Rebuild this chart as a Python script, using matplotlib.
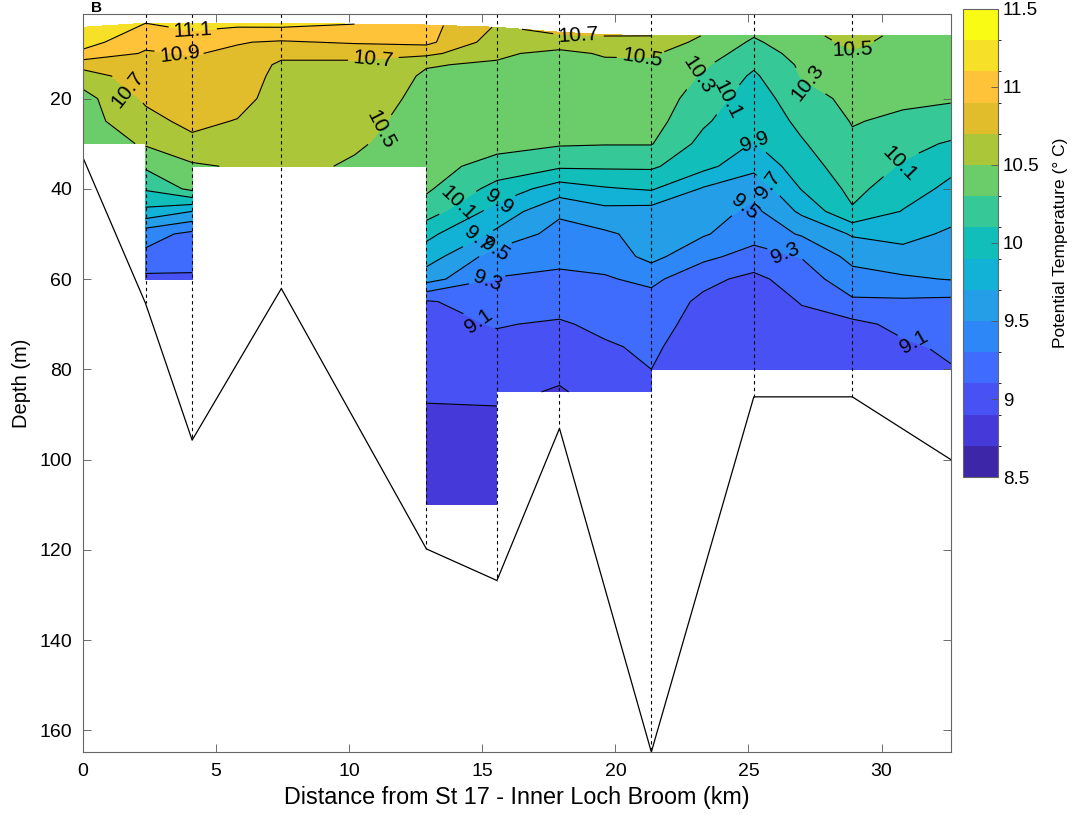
import numpy as np
import matplotlib.pyplot as plt
from matplotlib.colors import ListedColormap, BoundaryNorm

plt.rcParams['font.family'] = ['Liberation Sans', 'DejaVu Sans']

n = np.nan

# CTD columns along the section (km from St 17)
dist_km = [0, 2.35, 4.1, 5.8, 7.45, 10.2, 12.9, 15.55, 17.9, 19.6,
           21.35, 23.3, 25.2, 27.0, 28.9, 30.8, 32.6]
# depth of the first good bin at each column (m)
surface_m = [4.2, 3.3, 3.4, 3.3, 3.3, 3.5, 3.7, 4.2, 5.3, 5.8,
             6.1, 6.1, 6.1, 6.1, 6.1, 6.1, 6.1]
# depth bins below the surface bin (m)
depth_m = [7.5, 10, 12.5, 15, 20, 25, 30, 35, 40, 45, 50, 55, 60,
           65, 70, 75, 80, 85, 90, 95, 100, 105, 110]

# potential temperature (deg C), one profile per column: surface bin then depth_m
temp_profiles = [
    [11.25, 11.18, 11.05, 10.78, 10.60, 10.43, 10.42, 10.40] + [n] * 16,
    [11.10, 10.95, 10.88, 10.85, 10.82, 10.73, 10.64, 10.52, 10.33, 10.12,
     9.85, 9.38, 9.25, 9.05] + [n] * 10,
    [11.15, 11.02, 10.91, 10.87, 10.85, 10.80, 10.75, 10.65, 10.47, 10.35,
     9.70, 9.25, 9.15, 9.08] + [n] * 10,
    [11.15, 10.91, 10.87, 10.85, 10.83, 10.78, 10.69, 10.60, 10.52] + [n] * 15,
    [11.16, 10.88, 10.76, 10.66, 10.63, 10.60, 10.58, 10.56, 10.55] + [n] * 15,
    [11.10, 10.92, 10.76, 10.66, 10.62, 10.58, 10.55, 10.52, 10.48] + [n] * 15,
    [10.97, 10.95, 10.75, 10.51, 10.48, 10.46, 10.44, 10.42, 10.38, 10.33,
     10.20, 9.95, 9.80, 9.58, 9.08, 9.05, 9.00, 8.96, 8.92, 8.88,
     8.85, 8.82, 8.80, 8.78],
    [10.68, 10.60, 10.53, 10.48, 10.46, 10.43, 10.40, 10.37, 10.22, 10.03,
     9.82, 9.66, 9.40, 9.29, 9.20, 9.11, 9.06, 9.02, 8.95, 8.87,
     8.84, 8.82, 8.80, 8.78],
    [10.73, 10.60, 10.45, 10.42, 10.41, 10.40, 10.37, 10.32, 10.13, 9.80,
     9.54, 9.42, 9.35, 9.26, 9.17, 9.08, 9.02, 8.95, 8.88] + [n] * 5,
    [10.72, 10.62, 10.52, 10.46, 10.43, 10.41, 10.38, 10.31, 10.13, 9.88,
     9.64, 9.47, 9.38, 9.28, 9.20, 9.14, 9.08, 9.03, 8.98] + [n] * 5,
    [10.70, 10.60, 10.52, 10.47, 10.45, 10.42, 10.38, 10.31, 10.13, 9.92,
     9.62, 9.57, 9.56, 9.35, 9.22, 9.17, 9.13, 9.10, 9.05] + [n] * 5,
    [10.49, 10.46, 10.40, 10.33, 10.28, 10.20, 10.13, 10.04, 9.96, 9.68,
     9.60, 9.52, 9.35, 9.15, 9.06, 9.03, 9.00, 8.98] + [n] * 6,
    [10.31, 10.27, 10.20, 10.13, 10.07, 10.00, 9.95, 9.89, 9.76, 9.56,
     9.45, 9.38, 9.22, 9.05, 9.00, 8.97, 8.95, 8.94] + [n] * 6,
    [10.45, 10.42, 10.37, 10.33, 10.31, 10.22, 10.15, 10.08, 10.00, 9.91,
     9.74, 9.52, 9.31, 9.20, 9.11, 9.05, 9.00, 8.98] + [n] * 6,
    [10.56, 10.54, 10.48, 10.44, 10.40, 10.35, 10.31, 10.27, 10.22, 10.15,
     10.08, 9.72, 9.56, 9.42, 9.27, 9.05, 8.98, 8.95] + [n] * 6,
    [10.46, 10.44, 10.42, 10.40, 10.37, 10.33, 10.27, 10.16, 10.08, 10.00,
     9.89, 9.76, 9.63, 9.47, 9.27, 9.15, 9.07, 9.03] + [n] * 6,
    [10.47, 10.45, 10.43, 10.40, 10.37, 10.32, 10.22, 10.08, 9.95, 9.85,
     9.77, 9.67, 9.58, 9.51, 9.25, 9.18, 9.13, 9.09] + [n] * 6,
]

# station positions and sea-bed depth (dashed casts)
station_km = [2.35, 4.1, 7.45, 12.9, 15.55, 17.9, 21.35, 25.2, 28.9]
station_bottom_m = [65.4, 95.7, 62.1, 119.8, 126.8, 93.1, 164.8, 86.1, 86.1]

# bathymetry along the section
bathy_km = [0, 2.35, 4.1, 7.45, 12.9, 15.55, 17.9, 21.35, 25.2, 28.9, 32.6]
bathy_m = [33.1, 65.4, 95.7, 62.1, 119.8, 126.8, 93.1, 164.8, 86.1, 86.1, 100.0]

# contour label anchor points (km, m)
label_pos = [(4.15, 6.1), (3.6, 10.5), (1.95, 17.2), (10.9, 10.9), (11.1, 26.8),
             (18.6, 6.8), (21.0, 11.3), (23.2, 15.0), (24.2, 20.2), (27.2, 16.4),
             (29.0, 13.5), (25.6, 29.0), (25.7, 39.4), (24.6, 42.8), (26.4, 54.2),
             (30.6, 34.2), (31.6, 71.3), (14.0, 42.8), (15.4, 41.6), (14.9, 51.3),
             (15.5, 53.5), (15.2, 60.2), (15.0, 68.7)]

cbar_ticks = [8.5, 9, 9.5, 10, 10.5, 11, 11.5]
cbar_ticklabels = ['8.5', '9', '9.5', '10', '10.5', '11', '11.5']

# parula(15)
parula15 = ['#3e26a8', '#4539da', '#4852f4', '#406cfe', '#2d87f7', '#249ee6',
            '#12b1d6', '#12beb9', '#37c897', '#6acd69', '#abc739', '#e1bc2b',
            '#fec338', '#f6e028', '#f9fb14']

# ------------------------------------------------------------------
T = np.ma.masked_invalid(np.array(temp_profiles).T)
X = np.tile(np.array(dist_km), (len(depth_m) + 1, 1))
Y = np.vstack([surface_m, np.tile(np.array(depth_m)[:, None], (1, len(dist_km)))])

levels = np.round(np.linspace(8.5, 11.5, 16), 1)
cmap = ListedColormap(parula15)
norm = BoundaryNorm(levels, cmap.N)

y_top, y_bot = 1.2, 164.8

fig = plt.figure(figsize=(10.78, 8.23), dpi=100)
ax = fig.add_axes([0.077, 0.0863, 0.805, 0.897])

cf = ax.contourf(X, Y, T, levels=levels, cmap=cmap, norm=norm, corner_mask=False)
cs = ax.contour(X, Y, T, levels=levels, colors='k', linewidths=0.8, corner_mask=False)
ax.clabel(cs, manual=label_pos, inline=True, fontsize=15, fmt='%.1f')

ax.vlines(station_km, y_top, station_bottom_m, colors='k', linewidth=0.8,
          linestyles=(0, (3, 3)))
ax.plot(bathy_km, bathy_m, color='k', lw=0.9)

ax.set_xlim(0, 32.6)
ax.set_ylim(y_bot, y_top)
ax.set_xticks([0, 5, 10, 15, 20, 25, 30])
ax.set_yticks([20, 40, 60, 80, 100, 120, 140, 160])
ax.tick_params(direction='in', top=True, right=True, length=6, width=0.6,
               color='#555555', labelsize=14, pad=8)
for sp in ax.spines.values():
    sp.set_color('#666666')
    sp.set_linewidth(0.8)
ax.set_xlabel('Distance from St 17 - Inner Loch Broom (km)', fontsize=16.8, labelpad=4)
ax.set_ylabel('Depth (m)', fontsize=14.5, labelpad=6)

cax = fig.add_axes([0.8933, 0.4204, 0.0325, 0.5687])
cb = fig.colorbar(cf, cax=cax, ticks=cbar_ticks)
cb.ax.set_yticklabels(cbar_ticklabels)
cb.ax.tick_params(direction='in', length=5, width=0.6, color='#555555', labelsize=13.5)
cb.outline.set_edgecolor('#666666')
cb.outline.set_linewidth(0.8)
cb.set_label('Potential Temperature (° C)', fontsize=12.5, labelpad=10)

fig.text(0.084, 0.999, 'B', fontsize=11, fontweight='bold', va='top')

fig.savefig('out.png', dpi=100)
